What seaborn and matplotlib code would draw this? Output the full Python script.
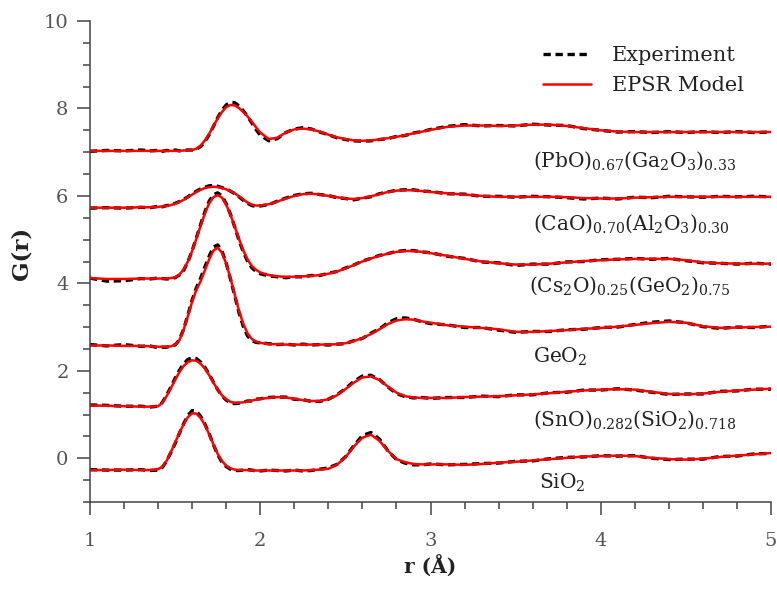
import matplotlib
matplotlib.use("Agg")
import matplotlib.pyplot as plt
from matplotlib.ticker import MultipleLocator
from matplotlib.lines import Line2D
import seaborn as sns
import pandas as pd

# ---------------- data ----------------
r = [1.0, 1.1, 1.2, 1.3, 1.35, 1.4, 1.425, 1.45, 1.475, 1.5, 1.525, 1.55, 1.575, 1.6,
     1.625, 1.65, 1.675, 1.7, 1.725, 1.75, 1.775, 1.8, 1.825, 1.85, 1.875, 1.9, 1.925,
     1.95, 1.975, 2.0, 2.05, 2.1, 2.15, 2.2, 2.25, 2.3, 2.35, 2.4, 2.45, 2.5, 2.55, 2.6,
     2.65, 2.7, 2.75, 2.8, 2.85, 2.9, 2.95, 3.0, 3.1, 3.2, 3.3, 3.4, 3.5, 3.6, 3.7, 3.8,
     3.9, 4.0, 4.1, 4.2, 4.3, 4.4, 4.5, 4.6, 4.7, 4.8, 4.9, 5.0]

samples = ["SiO2", "SnO-SiO2", "GeO2", "Cs2O-GeO2", "CaO-Al2O3", "PbO-Ga2O3"]

sio2_model = [-0.27, -0.27, -0.26, -0.27, -0.27, -0.25, -0.19, -0.06, 0.14, 0.36, 0.58, 0.78, 0.94, 1.03,
              1.02, 0.92, 0.76, 0.55, 0.32, 0.10, -0.06, -0.17, -0.23, -0.26, -0.27, -0.27, -0.27,
              -0.28, -0.28, -0.28, -0.28, -0.28, -0.28, -0.28, -0.28, -0.27, -0.26, -0.24, -0.15, 0.02, 0.27, 0.47,
              0.54, 0.40, 0.17, -0.02, -0.09, -0.13, -0.14, -0.14, -0.14, -0.15, -0.13, -0.10, -0.08, -0.05, -0.02, 0.01,
              0.04, 0.05, 0.06, 0.05, 0.01, -0.02, -0.03, -0.01, 0.03, 0.06, 0.09, 0.12]
sio2_exp = [-0.26, -0.27, -0.27, -0.26, -0.28, -0.27, -0.21, -0.06, 0.13, 0.34, 0.57, 0.79, 0.98, 1.09,
            1.08, 0.96, 0.78, 0.56, 0.31, 0.08, -0.09, -0.19, -0.25, -0.28, -0.28, -0.27, -0.26,
            -0.27, -0.29, -0.29, -0.27, -0.28, -0.29, -0.27, -0.29, -0.28, -0.25, -0.22, -0.14, 0.03, 0.29, 0.52,
            0.59, 0.44, 0.17, -0.03, -0.11, -0.15, -0.15, -0.13, -0.15, -0.14, -0.12, -0.11, -0.07, -0.06, -0.01, 0.02,
            0.03, 0.06, 0.05, 0.06, 0.00, -0.03, -0.02, -0.02, 0.04, 0.05, 0.10, 0.11]

snsi_model = [1.21, 1.20, 1.19, 1.18, 1.18, 1.19, 1.27, 1.42, 1.60, 1.79, 1.97, 2.11, 2.20, 2.24,
              2.23, 2.16, 2.05, 1.90, 1.73, 1.57, 1.44, 1.35, 1.29, 1.27, 1.27, 1.28, 1.30,
              1.32, 1.34, 1.36, 1.38, 1.40, 1.39, 1.36, 1.33, 1.31, 1.31, 1.35, 1.44, 1.58, 1.73, 1.85,
              1.87, 1.79, 1.64, 1.50, 1.42, 1.39, 1.38, 1.38, 1.38, 1.40, 1.41, 1.42, 1.44, 1.46, 1.49, 1.52,
              1.55, 1.57, 1.58, 1.57, 1.52, 1.47, 1.46, 1.48, 1.52, 1.55, 1.57, 1.59]
snsi_exp = [1.22, 1.21, 1.19, 1.19, 1.17, 1.19, 1.28, 1.44, 1.63, 1.83, 2.01, 2.16, 2.26, 2.30,
            2.28, 2.20, 2.08, 1.92, 1.74, 1.57, 1.43, 1.33, 1.27, 1.25, 1.26, 1.28, 1.31,
            1.31, 1.35, 1.36, 1.39, 1.40, 1.40, 1.35, 1.34, 1.30, 1.30, 1.35, 1.45, 1.59, 1.76, 1.88,
            1.90, 1.80, 1.63, 1.48, 1.41, 1.38, 1.39, 1.37, 1.39, 1.39, 1.42, 1.41, 1.45, 1.45, 1.50, 1.51,
            1.56, 1.56, 1.59, 1.56, 1.51, 1.46, 1.47, 1.47, 1.53, 1.54, 1.58, 1.58]

geo2_model = [2.58, 2.58, 2.57, 2.57, 2.56, 2.55, 2.55, 2.55, 2.56, 2.60, 2.70, 2.94, 3.25, 3.58,
              3.85, 4.05, 4.30, 4.55, 4.75, 4.82, 4.70, 4.45, 4.12, 3.75, 3.38, 3.08, 2.86,
              2.73, 2.67, 2.64, 2.61, 2.61, 2.60, 2.60, 2.60, 2.60, 2.60, 2.60, 2.61, 2.63, 2.68, 2.75,
              2.84, 2.95, 3.07, 3.15, 3.18, 3.17, 3.13, 3.10, 3.04, 3.01, 2.98, 2.95, 2.89, 2.89, 2.91, 2.93,
              2.96, 2.98, 3.01, 3.05, 3.09, 3.12, 3.10, 3.02, 2.98, 2.99, 3.00, 3.01]
geo2_exp = [2.60, 2.57, 2.60, 2.56, 2.57, 2.53, 2.54, 2.54, 2.57, 2.59, 2.71, 2.95, 3.28, 3.62,
            3.90, 4.12, 4.38, 4.62, 4.83, 4.88, 4.74, 4.46, 4.10, 3.72, 3.33, 3.02, 2.80,
            2.69, 2.65, 2.64, 2.62, 2.60, 2.61, 2.59, 2.61, 2.59, 2.60, 2.59, 2.61, 2.62, 2.69, 2.74,
            2.86, 2.96, 3.10, 3.19, 3.21, 3.18, 3.12, 3.08, 3.05, 2.99, 2.99, 2.93, 2.88, 2.90, 2.90, 2.94,
            2.95, 2.99, 3.00, 3.06, 3.11, 3.14, 3.10, 3.01, 2.97, 3.00, 2.99, 3.02]

csge_model = [4.12, 4.10, 4.10, 4.11, 4.11, 4.11, 4.11, 4.11, 4.12, 4.14, 4.20, 4.32, 4.50, 4.74,
              5.02, 5.32, 5.60, 5.83, 5.97, 6.02, 5.96, 5.80, 5.57, 5.30, 5.02, 4.76, 4.55,
              4.40, 4.31, 4.25, 4.19, 4.16, 4.15, 4.15, 4.16, 4.17, 4.19, 4.22, 4.27, 4.34, 4.42, 4.50,
              4.57, 4.63, 4.68, 4.72, 4.74, 4.74, 4.72, 4.69, 4.63, 4.56, 4.50, 4.46, 4.43, 4.43, 4.45, 4.48,
              4.51, 4.53, 4.55, 4.56, 4.56, 4.56, 4.53, 4.48, 4.46, 4.45, 4.45, 4.45]
csge_exp = [4.12, 4.05, 4.06, 4.11, 4.10, 4.12, 4.11, 4.10, 4.11, 4.13, 4.19, 4.30, 4.49, 4.75,
            5.04, 5.35, 5.64, 5.88, 6.03, 6.07, 6.00, 5.82, 5.58, 5.29, 4.99, 4.72, 4.51,
            4.36, 4.27, 4.22, 4.17, 4.15, 4.13, 4.15, 4.15, 4.18, 4.18, 4.23, 4.27, 4.35, 4.42, 4.51,
            4.57, 4.64, 4.68, 4.73, 4.75, 4.75, 4.72, 4.70, 4.62, 4.57, 4.49, 4.47, 4.41, 4.44, 4.44, 4.49,
            4.50, 4.54, 4.55, 4.57, 4.55, 4.57, 4.52, 4.47, 4.46, 4.44, 4.46, 4.44]

caal_model = [5.73, 5.73, 5.73, 5.74, 5.74, 5.75, 5.76, 5.77, 5.79, 5.82, 5.86, 5.91, 5.97, 6.03,
              6.09, 6.14, 6.18, 6.20, 6.21, 6.20, 6.18, 6.15, 6.11, 6.06, 5.99, 5.92, 5.85,
              5.80, 5.78, 5.78, 5.81, 5.87, 5.94, 6.00, 6.04, 6.05, 6.03, 6.00, 5.97, 5.94, 5.93, 5.95,
              5.99, 6.04, 6.09, 6.12, 6.13, 6.13, 6.11, 6.09, 6.06, 6.03, 6.00, 5.98, 5.98, 5.98, 5.98, 5.97,
              5.95, 5.94, 5.94, 5.96, 5.97, 5.98, 5.98, 5.98, 5.98, 5.98, 5.98, 5.98]
caal_exp = [5.72, 5.73, 5.72, 5.74, 5.73, 5.76, 5.75, 5.78, 5.79, 5.83, 5.87, 5.92, 5.98, 6.05,
            6.11, 6.16, 6.20, 6.23, 6.24, 6.22, 6.19, 6.16, 6.11, 6.05, 5.98, 5.90, 5.83,
            5.78, 5.76, 5.77, 5.80, 5.88, 5.95, 6.01, 6.05, 6.06, 6.03, 6.01, 5.96, 5.94, 5.91, 5.95,
            5.98, 6.05, 6.09, 6.13, 6.14, 6.14, 6.11, 6.10, 6.05, 6.04, 5.99, 5.99, 5.97, 5.99, 5.98, 5.96,
            5.93, 5.95, 5.93, 5.97, 5.96, 5.99, 5.98, 5.97, 5.99, 5.98, 5.99, 5.98]

pbga_model = [7.03, 7.03, 7.03, 7.03, 7.03, 7.03, 7.03, 7.03, 7.03, 7.03, 7.03, 7.04, 7.04, 7.05,
              7.08, 7.15, 7.27, 7.42, 7.60, 7.77, 7.92, 8.03, 8.08, 8.07, 8.01, 7.92, 7.82,
              7.70, 7.57, 7.45, 7.30, 7.33, 7.45, 7.52, 7.54, 7.52, 7.47, 7.40, 7.34, 7.30, 7.27, 7.26,
              7.27, 7.29, 7.32, 7.35, 7.39, 7.43, 7.47, 7.51, 7.58, 7.61, 7.61, 7.60, 7.61, 7.63, 7.63, 7.60,
              7.55, 7.50, 7.47, 7.46, 7.46, 7.46, 7.46, 7.46, 7.46, 7.46, 7.46, 7.46]
pbga_exp = [7.02, 7.04, 7.03, 7.05, 7.03, 7.04, 7.02, 7.04, 7.03, 7.05, 7.03, 7.04, 7.05, 7.05,
            7.07, 7.13, 7.24, 7.40, 7.59, 7.79, 7.96, 8.08, 8.14, 8.13, 8.06, 7.95, 7.82,
            7.67, 7.52, 7.39, 7.26, 7.31, 7.45, 7.53, 7.56, 7.53, 7.46, 7.40, 7.33, 7.29, 7.26, 7.25,
            7.26, 7.29, 7.31, 7.36, 7.38, 7.44, 7.47, 7.52, 7.59, 7.63, 7.60, 7.61, 7.60, 7.64, 7.62, 7.61,
            7.54, 7.50, 7.46, 7.47, 7.45, 7.47, 7.45, 7.47, 7.45, 7.47, 7.45, 7.46]

labels = [r"SiO$_2$",
          r"(SnO)$_{0.282}$(SiO$_2$)$_{0.718}$",
          r"GeO$_2$",
          r"(Cs$_2$O)$_{0.25}$(GeO$_2$)$_{0.75}$",
          r"(CaO)$_{0.70}$(Al$_2$O$_3$)$_{0.30}$",
          r"(PbO)$_{0.67}$(Ga$_2$O$_3$)$_{0.33}$"]
label_x = [3.64, 3.60, 3.60, 3.58, 3.60, 3.60]
label_y = [-0.57, 0.88, 2.33, 3.95, 5.37, 6.81]

model_sets = [sio2_model, snsi_model, geo2_model, csge_model, caal_model, pbga_model]
exp_sets = [sio2_exp, snsi_exp, geo2_exp, csge_exp, caal_exp, pbga_exp]

rows = []
for s, m, e in zip(samples, model_sets, exp_sets):
    for xi, mi, ei in zip(r, m, e):
        rows.append({"r": xi, "G": ei, "sample": s, "source": "Experiment"})
        rows.append({"r": xi, "G": mi, "sample": s, "source": "EPSR Model"})
df = pd.DataFrame(rows)

# ---------------- style ----------------
sns.set_style("ticks")
plt.rcParams["font.family"] = ["DejaVu Serif"]
plt.rcParams["mathtext.fontset"] = "dejavuserif"

fig = plt.figure(figsize=(7.77, 5.89), dpi=100)
ax = fig.add_axes([90 / 777, 87 / 589, 681 / 777, 481 / 589])

exp_df = df[df["source"] == "Experiment"]
mod_df = df[df["source"] == "EPSR Model"]

sns.lineplot(data=exp_df, x="r", y="G", units="sample", estimator=None, sort=False,
             color="black", lw=2.4, ax=ax, legend=False)
for ln in ax.lines:
    ln.set_dashes((2.2, 1.4))
sns.lineplot(data=mod_df, x="r", y="G", units="sample", estimator=None, sort=False,
             color="#ff0000", lw=1.8, ax=ax, legend=False)

for txt, lx, ly in zip(labels, label_x, label_y):
    ax.text(lx, ly, txt, fontsize=14.5, color="#222222", ha="left", va="center")

ax.set_xlim(1, 5)
ax.set_ylim(-1, 10)
ax.xaxis.set_major_locator(MultipleLocator(1))
ax.xaxis.set_minor_locator(MultipleLocator(0.2))
ax.yaxis.set_major_locator(MultipleLocator(2))
ax.yaxis.set_minor_locator(MultipleLocator(0.5))

for side in ["top", "right"]:
    ax.spines[side].set_visible(False)
for side in ["left", "bottom"]:
    ax.spines[side].set_color("#444444")
    ax.spines[side].set_linewidth(1.1)

ax.tick_params(axis="both", which="major", direction="out", length=9.4, width=1.1,
               color="#444444", labelcolor="#555555", labelsize=14)
ax.tick_params(axis="both", which="minor", direction="out", length=5, width=1.1, color="#444444")
ax.tick_params(axis="x", which="major", pad=12)
ax.tick_params(axis="y", which="major", pad=6)

ax.set_xlabel("r (Å)", fontsize=14.5, fontweight="bold", color="#222222", labelpad=4)
ax.set_ylabel("G(r)", fontsize=16.5, fontweight="bold", color="#222222")
ax.yaxis.set_label_coords(-0.084, 0.516)

handles = [Line2D([], [], color="black", lw=2.4, dashes=(2.2, 1.4)),
           Line2D([], [], color="#ff0000", lw=1.8)]
fig.legend(handles, ["Experiment", "EPSR Model"], loc="upper left",
           bbox_to_anchor=(543 / 777, 1 - 46 / 589), frameon=False, fontsize=15,
           handlelength=2.3, handletextpad=1.0, labelspacing=0.55, borderpad=0,
           borderaxespad=0, labelcolor="#222222")

fig.savefig("out.png", dpi=100)
